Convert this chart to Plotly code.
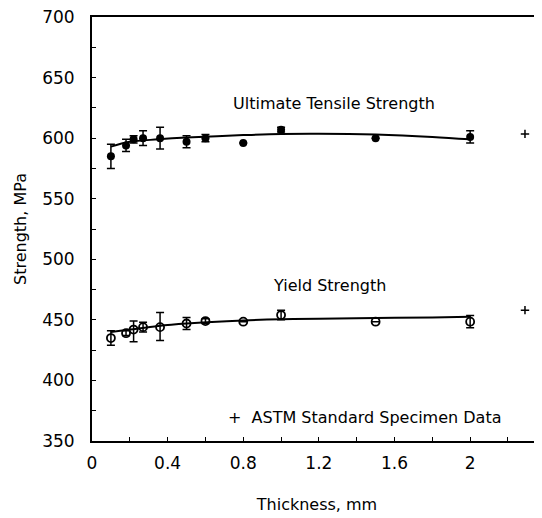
import plotly.graph_objects as go

# Ultimate tensile strength data
uts_x = [0.10, 0.18, 0.22, 0.27, 0.36, 0.50, 0.60, 0.80, 1.00, 1.50, 2.00]
uts_y = [585, 594, 599, 600, 600, 597, 600, 596, 607, 600, 601]
uts_err = [10, 5, 3, 6, 9, 5, 3, 0, 2, 0, 5]

# Yield strength data
ys_x = [0.10, 0.18, 0.22, 0.27, 0.36, 0.50, 0.60, 0.80, 1.00, 1.50, 2.00]
ys_y = [435, 439, 442, 444, 444, 447, 449, 448.5, 454, 448.5, 448.5]
ys_err_plus = [6, 2, 7, 4, 12, 5, 2, 0, 4, 0, 5]
ys_err_minus = [6, 2, 10, 4, 11, 5, 2, 0, 4, 0, 5]

# Fitted curves
fit_x = [0.10, 0.20, 0.35, 0.50, 0.80, 1.00, 1.20, 1.50, 1.80, 2.00]
uts_fit = [593, 597, 599, 600.5, 602.5, 603.5, 603.7, 603, 601, 599]
ys_fit = [440, 442, 445, 447, 449.5, 450.5, 451, 451.5, 452, 452.5]

# ASTM standard specimen data
astm_x = [2.29, 2.29]
astm_y = [603.5, 458]

# Axis ticks
xtick_vals = [0, 0.4, 0.8, 1.2, 1.6, 2.0]
xtick_text = ["0", "0.4", "0.8", "1.2", "1.6", "2"]
ytick_vals = [350, 400, 450, 500, 550, 600, 650, 700]

FONT = "DejaVu Sans, Liberation Sans, Arial, sans-serif"

fig = go.Figure()

fig.add_trace(go.Scatter(x=fit_x, y=uts_fit, mode="lines", line=dict(color="black", width=2, shape="spline"),
                         hoverinfo="skip"))
fig.add_trace(go.Scatter(x=fit_x, y=ys_fit, mode="lines", line=dict(color="black", width=2, shape="spline"),
                         hoverinfo="skip"))

fig.add_trace(go.Scatter(
    x=uts_x, y=uts_y, mode="markers",
    marker=dict(symbol="circle", size=8, color="black"),
    error_y=dict(type="data", array=uts_err, visible=True, color="black", thickness=1.5, width=4),
))
fig.add_trace(go.Scatter(
    x=ys_x, y=ys_y, mode="markers",
    marker=dict(symbol="circle-open", size=8, color="black", line=dict(width=1.8)),
    error_y=dict(type="data", array=ys_err_plus, arrayminus=ys_err_minus, visible=True,
                 color="black", thickness=1.5, width=4),
))
fig.add_trace(go.Scatter(
    x=astm_x, y=astm_y, mode="markers",
    marker=dict(symbol="cross-thin", size=6, color="black", line=dict(width=1.5, color="black")),
))

fig.add_annotation(x=1.28, y=628.5, text="Ultimate Tensile Strength", showarrow=False,
                   font=dict(size=16, color="black", family=FONT))
fig.add_annotation(x=1.255, y=478.5, text="Yield Strength", showarrow=False,
                   font=dict(size=16, color="black", family=FONT))
fig.add_annotation(x=1.44, y=369, text="+  ASTM Standard Specimen Data", showarrow=False,
                   font=dict(size=16, color="black", family=FONT))

fig.update_layout(
    width=534, height=510,
    margin=dict(l=84, r=0, t=9, b=77),
    paper_bgcolor="white", plot_bgcolor="white",
    showlegend=False,
    font=dict(family=FONT, size=16, color="black"),
    xaxis=dict(
        range=[0, 2.38], tickvals=xtick_vals, ticktext=xtick_text,
        ticks="inside", ticklen=4, tickwidth=1, tickcolor="black",
        minor=dict(dtick=0.2, ticks="inside", ticklen=4, tickcolor="black", tick0=0),
        showline=True, linecolor="black", linewidth=2, mirror=True,
        showgrid=False, zeroline=False, ticklabelstandoff=6,
        ticklabeloverflow="allow",
        title=dict(text="Thickness, mm", standoff=26, font=dict(size=16, color="black")),
        tickfont=dict(size=17, color="black"), automargin=False,
    ),
    yaxis=dict(
        range=[350, 700], tickvals=ytick_vals,
        ticks="inside", ticklen=4, tickwidth=1, tickcolor="black",
        minor=dict(dtick=25, ticks="inside", ticklen=4, tickcolor="black", tick0=350),
        showline=True, linecolor="black", linewidth=2,
        showgrid=False, zeroline=False, ticklabelstandoff=12,
        ticklabeloverflow="allow",
        title=dict(text="Strength, MPa", standoff=12, font=dict(size=16, color="black")),
        tickfont=dict(size=17, color="black"), automargin=False,
    ),
)

fig.write_html("out.html")
